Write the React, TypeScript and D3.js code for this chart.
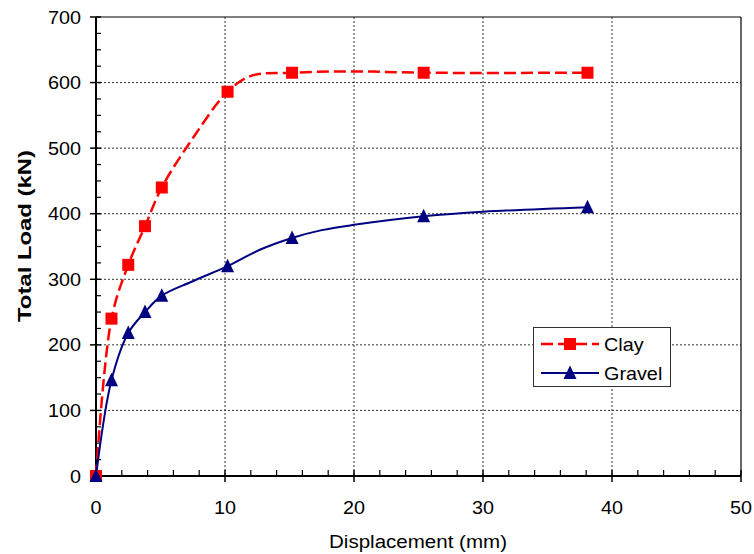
import React from "react";
import * as d3 from "d3";

const clayMarkX = [0, 1.2, 2.5, 3.8, 5.1, 10.2, 15.2, 25.4, 38.1];
const clayMarkY = [0, 240, 322, 381, 440, 586, 615, 615, 615];
const clayCurveX = [0, 1.2, 2.5, 3.8, 5.1, 7.5, 10.2, 12, 15.2, 20, 25.4, 38.1];
const clayCurveY = [0, 240, 322, 381, 440, 515, 586, 610, 615, 617, 615, 615];

const gravelMarkX = [0, 1.2, 2.5, 3.8, 5.1, 10.2, 15.2, 25.4, 38.1];
const gravelMarkY = [0, 146, 218, 250, 275, 320, 363, 396, 410];
const gravelCurveX = [0, 1.2, 2.5, 3.8, 5.1, 7.5, 10.2, 12.7, 15.2, 17.5, 20, 25.4, 30, 38.1];
const gravelCurveY = [0, 146, 218, 250, 275, 297, 320, 345, 363, 375, 383, 396, 403, 410];

const xTicks = [0, 10, 20, 30, 40, 50];
const yTicks = [0, 100, 200, 300, 400, 500, 600, 700];
const xMinor = d3.range(0, 50.01, 2);
const yMinor = d3.range(0, 700.01, 25);

const W = 754, H = 554;
const L = 96, R = 741, T = 17, B = 476;
const FONT = "'Liberation Sans', Arial, sans-serif";
const SX = 1.1;

export default function App() {
  const x = d3.scaleLinear().domain([0, 50]).range([L, R]);
  const y = d3.scaleLinear().domain([0, 700]).range([B, T]);
  const line = d3
    .line<[number, number]>()
    .x((d) => x(d[0]))
    .y((d) => y(d[1]))
    .curve(d3.curveCatmullRom.alpha(0.5));
  const clayPts = clayCurveX.map((v, i) => [v, clayCurveY[i]] as [number, number]);
  const gravelPts = gravelCurveX.map((v, i) => [v, gravelCurveY[i]] as [number, number]);
  const sq = 12;
  const tri = "M0,-7.5L6.5,6L-6.5,6Z";

  const Txt = (p: { x: number; y: number; anchor?: string; children: any; size?: number; weight?: string }) => (
    <text
      transform={`translate(${p.x},${p.y}) scale(${SX},1)`}
      textAnchor={p.anchor || "start"}
      fontSize={p.size || 18}
      fontWeight={p.weight || "normal"}
      fontFamily={FONT}
      fill="#000"
    >
      {p.children}
    </text>
  );

  return (
    <svg width={W} height={H} style={{ position: "absolute", left: 0, top: 0 }}>
      <rect width={W} height={H} fill="#fff" />
      {xTicks.slice(1, -1).map((t) => (
        <line key={"gx" + t} x1={x(t)} x2={x(t)} y1={T} y2={B} stroke="#333" strokeWidth={1} strokeDasharray="2,2" />
      ))}
      {yTicks.slice(1, -1).map((t) => (
        <line key={"gy" + t} x1={L} x2={R} y1={y(t)} y2={y(t)} stroke="#333" strokeWidth={1} strokeDasharray="2,2" />
      ))}
      <line x1={L} x2={R} y1={T} y2={T} stroke="#000" strokeWidth={1.2} />
      <line x1={R} x2={R} y1={T} y2={B} stroke="#000" strokeWidth={1.2} />
      <line x1={L} x2={L} y1={T} y2={B} stroke="#000" strokeWidth={2} />
      <line x1={L} x2={R} y1={B} y2={B} stroke="#000" strokeWidth={2} />
      {yMinor.filter((t) => t % 100 !== 0).map((t) => (
        <line key={"my" + t} x1={L} x2={L + 5} y1={y(t)} y2={y(t)} stroke="#000" strokeWidth={1.2} />
      ))}
      {xMinor.filter((t) => t % 10 !== 0).map((t) => (
        <line key={"mx" + t} x1={x(t)} x2={x(t)} y1={B} y2={B - 6} stroke="#000" strokeWidth={1.2} />
      ))}
      {yTicks.map((t) => (
        <line key={"ty" + t} x1={L - 6} x2={L + 5} y1={y(t)} y2={y(t)} stroke="#000" strokeWidth={1.5} />
      ))}
      {xTicks.map((t) => (
        <line key={"tx" + t} x1={x(t)} x2={x(t)} y1={B - 6} y2={B + 6} stroke="#000" strokeWidth={1.5} />
      ))}
      {yTicks.map((t) => (
        <Txt key={"ly" + t} x={81} y={y(t) + 6.5} anchor="end">
          {t}
        </Txt>
      ))}
      {xTicks.map((t) => (
        <Txt key={"lx" + t} x={x(t)} y={514} anchor="middle">
          {t}
        </Txt>
      ))}
      <text
        x={418}
        y={548}
        textAnchor="middle"
        fontSize={18}
        fontFamily={FONT}
        textLength={178}
        lengthAdjust="spacingAndGlyphs"
      >
        Displacement (mm)
      </text>
      <text
        transform={`translate(31,236) rotate(-90)`}
        textAnchor="middle"
        fontSize={18}
        fontWeight="bold"
        fontFamily={FONT}
        textLength={172}
        lengthAdjust="spacingAndGlyphs"
      >
        Total Load (kN)
      </text>
      <path d={line(clayPts) || ""} fill="none" stroke="#ff0000" strokeWidth={2.5} strokeDasharray="12,5" />
      <path d={line(gravelPts) || ""} fill="none" stroke="#000080" strokeWidth={2} />
      {clayMarkX.map((v, i) => (
        <rect key={"cm" + i} x={x(v) - sq / 2} y={y(clayMarkY[i]) - sq / 2} width={sq} height={sq} fill="#ff0000" />
      ))}
      {gravelMarkX.map((v, i) => (
        <path key={"gm" + i} d={tri} transform={`translate(${x(v)},${y(gravelMarkY[i])})`} fill="#000080" />
      ))}
      <rect x={533.5} y={327.5} width={137} height={59} fill="#fff" stroke="#333" strokeWidth={1} />
      <line x1={541} x2={599} y1={344} y2={344} stroke="#ff0000" strokeWidth={2.5} strokeDasharray="12,5" />
      <rect x={570 - sq / 2} y={344 - sq / 2} width={sq} height={sq} fill="#ff0000" />
      <line x1={541} x2={599} y1={373} y2={373} stroke="#000080" strokeWidth={2} />
      <path d={tri} transform={`translate(570,373)`} fill="#000080" />
      <Txt x={604} y={351}>Clay</Txt>
      <Txt x={604} y={380}>Gravel</Txt>
    </svg>
  );
}
